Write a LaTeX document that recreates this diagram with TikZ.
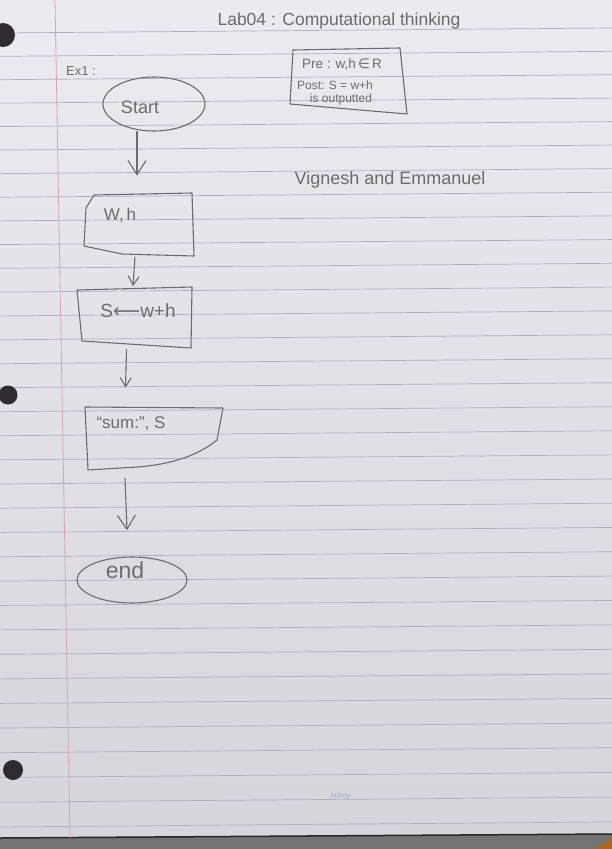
\documentclass[tikz,border=0pt]{standalone}
\usepackage{fontspec}
\setmainfont{Liberation Sans}
\newfontfamily\symfont{DejaVu Sans}
\usetikzlibrary{arrows.meta,shapes.geometric,calc}

\definecolor{paper}{HTML}{ECEBEF}
\definecolor{paperlow}{HTML}{D6D6DA}
\definecolor{rule}{HTML}{AEB1BC}
\definecolor{margin}{HTML}{D6A6B3}
\definecolor{pencil}{HTML}{6C6C6E}
\definecolor{hole}{HTML}{2E2C2E}

\tikzset{
  pencil/.style={draw=pencil, line width=1.1pt, line join=round, line cap=round},
  conn/.style={pencil, -{Straight Barb[length=14pt,width=18pt,line width=1.1pt]}},
  smallconn/.style={pencil, -{Straight Barb[length=9pt,width=11pt,line width=1.1pt]}},
  hand/.style={text=pencil, inner sep=0pt},
  terminal/.style={ellipse, pencil, inner sep=0pt},
}

\begin{document}
\begin{tikzpicture}[x=1pt, y=-1pt]
  \useasboundingbox (0,0) rectangle (612,849);

  % sheet of ruled paper
  \shade[top color=paper, bottom color=paperlow] (0,0) rectangle (612,838);
  \fill[black!55] (0,838) -- (612,834) -- (612,849) -- (0,849) -- cycle;
  \draw[black!85, line width=1.5pt] (0,838) -- (612,834);
  \fill[brown!70!orange!80!black] (594,849) -- (612,838) -- (612,849) -- cycle;

  % horizontal rules
  \foreach \k in {0,...,33} {
    \pgfmathsetmacro{\yl}{33 + 23.3*\k + 0.023*\k*\k}
    \draw[rule, line width=0.7pt] (0,\yl) -- (612,\yl-5);
  }
  % margin line
  \draw[margin, line width=0.8pt] (55,0) -- (70,838);

  % binder holes
  \fill[hole] (3,35) circle (12);
  \fill[hole] (8,395) circle (9.5);
  \fill[hole] (13,770) circle (10);

  % heading and notes
  \node[hand, font=\fontsize{17.5}{20}\selectfont] (title) at (339,21) {Lab04 : Computational thinking};
  \node[hand, font=\fontsize{13}{15}\selectfont] (ex) at (81,71) {Ex1 :};
  \node[hand, font=\fontsize{18}{20}\selectfont] (names) at (390,180) {Vignesh and Emmanuel};

  % pre / post conditions box
  \draw[pencil] (293,50) -- (400,48) -- (407,114) -- (290,104) -- cycle;
  \node[hand, font=\fontsize{13.5}{15}\selectfont] (pre) at (342,64) {Pre : w,h\,{\symfont∈}\,R};
  \node[hand, font=\fontsize{12}{13}\selectfont] (post) at (335,85) {Post: S = w+h};
  \node[hand, font=\fontsize{12}{13}\selectfont] (postb) at (341,99) {is outputted};

  % flowchart: start
  \node[terminal, minimum width=102pt, minimum height=54pt] (start) at (154,104) {};
  \node[hand, font=\fontsize{18}{20}\selectfont] (starttxt) at (140,107) {Start};

  % input: W,h
  \draw[pencil] (86,208) -- (94,195) -- (192,193) -- (194,256) -- (122,254) -- (84,246) -- cycle;
  \node[inner sep=0pt, minimum width=110pt, minimum height=63pt] (input) at (139,224.5) {};
  \node[hand, font=\fontsize{17}{19}\selectfont] (inputtxt) at (120,215) {W,\,h};

  % process: S <- w+h
  \draw[pencil] (77,290) -- (192,287) -- (191,348) -- (82,341) -- cycle;
  \node[inner sep=0pt, minimum width=115pt, minimum height=61pt] (proc) at (134.5,318) {};
  \node[hand, font=\fontsize{19}{21}\selectfont] (proctxt) at (138,311) {S{\symfont\fontsize{19}{21}\selectfont ⟵}w+h};

  % output: "sum:", S
  \draw[pencil] (85,407) -- (223,408) -- (217,440)
        .. controls (195,458) and (165,465) .. (137,467) -- (88,470) -- cycle;
  \node[inner sep=0pt, minimum width=138pt, minimum height=63pt] (output) at (154,438.5) {};
  \node[hand, font=\fontsize{17}{19}\selectfont] (outputtxt) at (131,424) {“sum:”, S};

  % end
  \node[terminal, minimum width=110pt, minimum height=46pt] (stop) at (132,580) {};
  \node[hand, font=\fontsize{23}{25}\selectfont] (stoptxt) at (125,570) {end};

  % connectors
  \draw[conn] ([xshift=-17pt]start.south) -- ++(0,44);
  \draw[smallconn] ([xshift=-4pt,yshift=-1pt]input.south) -- ++(-2,29);
  \draw[smallconn] ([xshift=-8pt,yshift=-1pt]proc.south) -- ++(-1,38);
  \draw[conn] ([xshift=-29pt,yshift=-8pt]output.south) -- ++(2,52);

  % paper maker's mark
  \node[text=rule!80!blue, font=\itshape\fontsize{8}{9}\selectfont, opacity=0.6] (mark) at (341,796) {Hilroy};
\end{tikzpicture}
\end{document}
